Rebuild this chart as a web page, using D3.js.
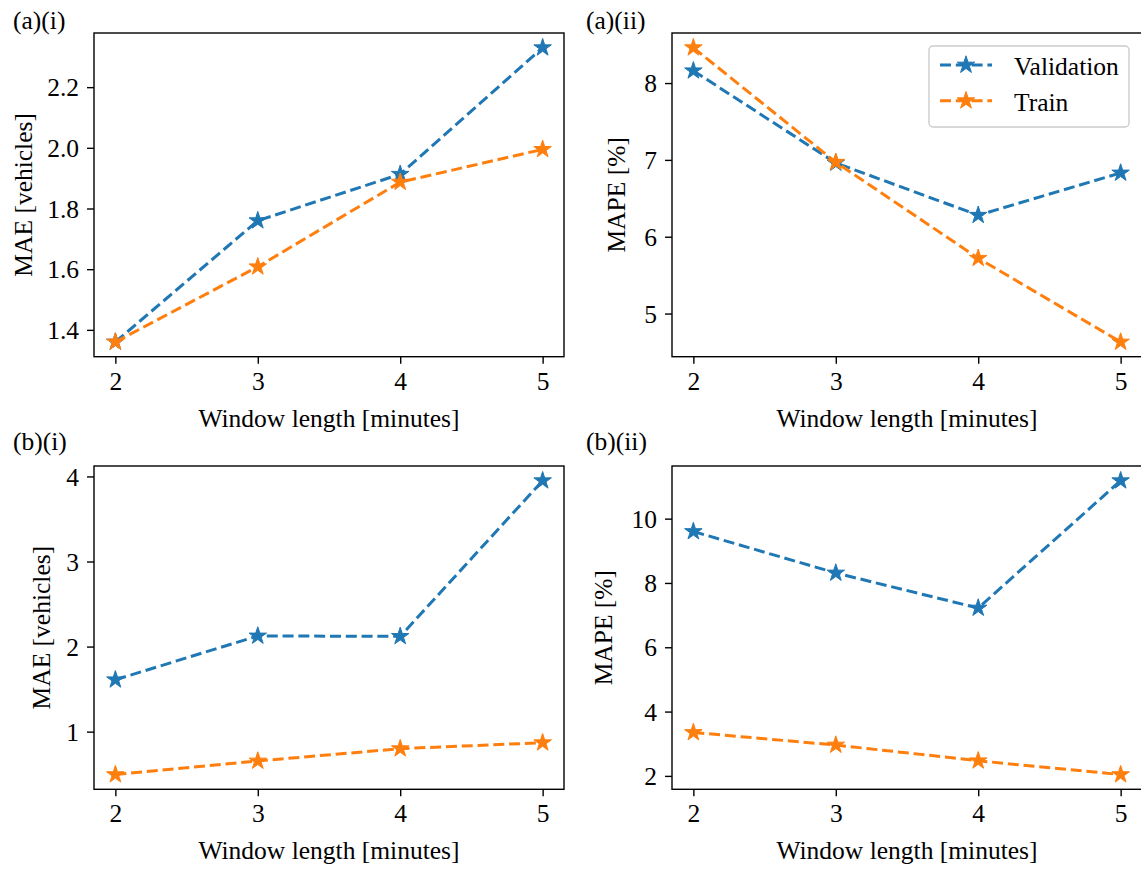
<!DOCTYPE html>
<html>
<head>
<meta charset="utf-8">
<script src="https://cdn.jsdelivr.net/npm/d3@7"></script>
<style>
  html, body { margin: 0; padding: 0; background: #fff; }
  svg { display: block; }
  text { font-family: "Liberation Serif", "Times New Roman", Times, serif; fill: #000; }
</style>
</head>
<body>
<svg id="chart" width="1141" height="869"></svg>
<script>
// ---- data ----
const windows = [2, 3, 4, 5];
const seriesNames = ["Validation", "Train"];
const maeA_val   = [1.36, 1.76, 1.913, 2.33];
const maeA_train = [1.36, 1.608, 1.887, 1.995];
const mapeA_val   = [8.16, 6.96, 6.28, 6.83];
const mapeA_train = [8.46, 6.97, 5.72, 4.63];
const maeB_val   = [1.61, 2.125, 2.12, 3.95];
const maeB_train = [0.495, 0.655, 0.80, 0.87];
const mapeB_val   = [9.6, 8.31, 7.22, 11.18];
const mapeB_train = [3.35, 2.96, 2.47, 2.04];
const xTicks = [2, 3, 4, 5];
const yTicksMaeA = [1.4, 1.6, 1.8, 2.0, 2.2];
const yTicksMapeA = [5, 6, 7, 8];
const yTicksMaeB = [1, 2, 3, 4];
const yTicksMapeB = [2, 4, 6, 8, 10];
const titles = ["(a)(i)", "(a)(ii)", "(b)(i)", "(b)(ii)"];
const xLabel = "Window length [minutes]";
const yLabels = ["MAE [vehicles]", "MAPE [%]", "MAE [vehicles]", "MAPE [%]"];

const colors = ["#1f77b4", "#ff7f0e"];
const FS = 25.5;
const LW = 3;
const DASH = "11,4.8";

const svg = d3.select("#chart");

const panels = [
  {x0: 94,  x1: 564,  y0: 33,  y1: 356.7, val: maeA_val,  train: maeA_train,  ticks: yTicksMaeA, fmt: d3.format(".1f"), title: titles[0], ylab: yLabels[0], ylabX: 32,  titleX: 13,  titleY: 29, legend: false},
  {x0: 672, x1: 1142, y0: 33,  y1: 356.7, val: mapeA_val, train: mapeA_train, ticks: yTicksMapeA, fmt: d3.format("d"),  title: titles[1], ylab: yLabels[1], ylabX: 625, titleX: 586, titleY: 29, legend: true},
  {x0: 94,  x1: 564,  y0: 466, y1: 789.3, val: maeB_val,  train: maeB_train,  ticks: yTicksMaeB, fmt: d3.format("d"),  title: titles[2], ylab: yLabels[2], ylabX: 50,  titleX: 13,  titleY: 450, legend: false},
  {x0: 672, x1: 1142, y0: 466, y1: 789.3, val: mapeB_val, train: mapeB_train, ticks: yTicksMapeB, fmt: d3.format("d"),  title: titles[3], ylab: yLabels[3], ylabX: 612, titleX: 586, titleY: 450, legend: false}
];

const star = d3.symbol().type(d3.symbolStar).size(95);

panels.forEach(p => {
  const all = p.val.concat(p.train);
  const mn = d3.min(all), mx = d3.max(all);
  const pad = (mx - mn) * 0.05;
  const x = d3.scaleLinear().domain([1.85, 5.15]).range([p.x0, p.x1]);
  const y = d3.scaleLinear().domain([mn - pad, mx + pad]).range([p.y1, p.y0]);

  const g = svg.append("g");

  // x axis
  const xa = g.append("g").attr("transform", `translate(0,${p.y1})`)
    .call(d3.axisBottom(x).tickValues(xTicks).tickFormat(d3.format("d")).tickSizeOuter(0).tickSize(7).tickPadding(8));
  xa.attr("font-family", null).attr("font-size", null);
  xa.select(".domain").remove();
  xa.selectAll("line").attr("stroke", "#000").attr("stroke-width", 1.4);
  xa.selectAll("text").attr("font-size", FS).attr("dy", "0.71em");

  // y axis
  const ya = g.append("g").attr("transform", `translate(${p.x0},0)`)
    .call(d3.axisLeft(y).tickValues(p.ticks).tickFormat(p.fmt).tickSizeOuter(0).tickSize(7).tickPadding(8));
  ya.attr("font-family", null).attr("font-size", null);
  ya.select(".domain").remove();
  ya.selectAll("line").attr("stroke", "#000").attr("stroke-width", 1.4);
  ya.selectAll("text").attr("font-size", FS).attr("dy", "0.34em");

  // lines
  const line = d3.line().x((d, i) => x(windows[i])).y(d => y(d));
  [p.val, p.train].forEach((arr, si) => {
    g.append("path").datum(arr)
      .attr("d", line).attr("fill", "none")
      .attr("stroke", colors[si]).attr("stroke-width", LW)
      .attr("stroke-dasharray", DASH);
    g.selectAll(null).data(arr).enter().append("path")
      .attr("d", star)
      .attr("transform", (d, i) => `translate(${x(windows[i])},${y(d)})`)
      .attr("fill", colors[si]).attr("stroke", colors[si]).attr("stroke-width", 1);
  });

  // frame
  g.append("rect").attr("x", p.x0).attr("y", p.y0)
    .attr("width", p.x1 - p.x0).attr("height", p.y1 - p.y0)
    .attr("fill", "none").attr("stroke", "#000").attr("stroke-width", 1.4);

  // labels
  g.append("text").attr("x", (p.x0 + p.x1) / 2).attr("y", p.y1 + 70)
    .attr("text-anchor", "middle").attr("font-size", FS).text(xLabel);
  g.append("text")
    .attr("transform", `translate(${p.ylabX},${(p.y0 + p.y1) / 2}) rotate(-90)`)
    .attr("text-anchor", "middle").attr("font-size", FS).text(p.ylab);
  g.append("text").attr("x", p.titleX).attr("y", p.titleY)
    .attr("font-size", FS).text(p.title);

  if (p.legend) {
    const lg = g.append("g");
    lg.append("rect").attr("x", 929).attr("y", 46).attr("width", 200).attr("height", 81)
      .attr("rx", 4).attr("fill", "#fff").attr("fill-opacity", 0.8)
      .attr("stroke", "#cccccc").attr("stroke-width", 1.4);
    seriesNames.forEach((name, i) => {
      const yy = 65 + i * 35.7;
      lg.append("line").attr("x1", 940).attr("x2", 992).attr("y1", yy).attr("y2", yy)
        .attr("stroke", colors[i]).attr("stroke-width", LW).attr("stroke-dasharray", DASH);
      lg.append("path").attr("d", star).attr("transform", `translate(966,${yy})`)
        .attr("fill", colors[i]).attr("stroke", colors[i]).attr("stroke-width", 1);
      lg.append("text").attr("x", 1014).attr("y", yy + 10).attr("font-size", FS).text(name);
    });
  }
});
</script>
</body>
</html>
